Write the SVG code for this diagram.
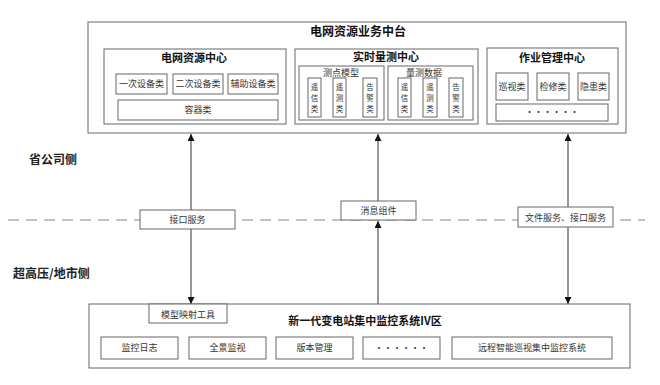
<svg xmlns="http://www.w3.org/2000/svg" width="660" height="385" viewBox="0 0 660 385">
<defs>
<marker id="ah" viewBox="0 0 10 10" refX="10" refY="5" markerWidth="7" markerHeight="7" markerUnits="userSpaceOnUse" orient="auto">
<path d="M0,0 L10,5 L0,10 z" fill="#111"/>
</marker>
<style>
.box{fill:#fff;stroke:#666;stroke-width:1}
.lbl{font-family:"Noto Sans CJK SC","Noto Sans",sans-serif;font-size:9px;fill:#333;text-anchor:middle}
.vl{font-family:"Noto Sans CJK SC","Noto Sans",sans-serif;font-size:7.5px;fill:#333;text-anchor:middle}
.ttl{font-family:"Noto Sans CJK SC","Noto Sans",sans-serif;font-weight:bold;fill:#111;text-anchor:middle}
.side{font-family:"Noto Sans CJK SC","Noto Sans",sans-serif;font-weight:bold;font-size:12px;fill:#222}
.ln{stroke:#333;stroke-width:1;fill:none}
</style>
</defs>
<rect width="660" height="385" fill="#fff"/>

<line x1="8" y1="220" x2="645" y2="220" stroke="#888" stroke-width="1.2" stroke-dasharray="11,7"/>

<g id="top-platform">
<rect class="box" x="88" y="22" width="538" height="111"/>
<text class="ttl" x="358" y="36" font-size="12">电网资源业务中台</text>
</g>

<g id="grid-resource-center">
<rect class="box" x="104" y="49" width="182" height="75"/>
<text class="ttl" x="194" y="62" font-size="11">电网资源中心</text>
<rect class="box" x="116" y="74" width="51" height="20"/>
<text class="lbl" x="141.5" y="87">一次设备类</text>
<rect class="box" x="173" y="74" width="50" height="20"/>
<text class="lbl" x="198" y="87">二次设备类</text>
<rect class="box" x="228" y="74" width="50" height="20"/>
<text class="lbl" x="253" y="87">辅助设备类</text>
<rect class="box" x="118" y="100" width="160" height="20"/>
<text class="lbl" x="198" y="113">容器类</text>
</g>

<g id="realtime-center">
<rect class="box" x="295" y="49" width="183" height="75"/>
<text class="ttl" x="386" y="61" font-size="11">实时量测中心</text>
<rect class="box" x="299" y="66" width="85" height="54"/>
<text class="lbl" x="341" y="75.5">测点模型</text>
<rect class="box" x="308" y="78" width="13" height="39"/>
<text class="vl" x="314.5" y="89.5">遥</text><text class="vl" x="314.5" y="100.5">信</text><text class="vl" x="314.5" y="111.5">类</text>
<rect class="box" x="333" y="78" width="13" height="39"/>
<text class="vl" x="339.5" y="89.5">遥</text><text class="vl" x="339.5" y="100.5">测</text><text class="vl" x="339.5" y="111.5">类</text>
<rect class="box" x="363" y="78" width="14" height="39"/>
<text class="vl" x="370" y="89.5">告</text><text class="vl" x="370" y="100.5">警</text><text class="vl" x="370" y="111.5">类</text>
<rect class="box" x="388" y="66" width="85" height="54"/>
<text class="lbl" x="424" y="75.5">量测数据</text>
<rect class="box" x="398" y="78" width="13" height="39"/>
<text class="vl" x="404.5" y="89.5">遥</text><text class="vl" x="404.5" y="100.5">信</text><text class="vl" x="404.5" y="111.5">类</text>
<rect class="box" x="423" y="78" width="14" height="39"/>
<text class="vl" x="430" y="89.5">遥</text><text class="vl" x="430" y="100.5">测</text><text class="vl" x="430" y="111.5">类</text>
<rect class="box" x="449" y="78" width="14" height="39"/>
<text class="vl" x="456" y="89.5">告</text><text class="vl" x="456" y="100.5">警</text><text class="vl" x="456" y="111.5">类</text>
</g>

<g id="operation-center">
<rect class="box" x="487" y="48" width="131" height="76"/>
<text class="ttl" x="552" y="62" font-size="11">作业管理中心</text>
<rect class="box" x="496" y="73" width="32" height="27"/>
<text class="lbl" x="512" y="90">巡视类</text>
<rect class="box" x="537" y="73" width="32" height="27"/>
<text class="lbl" x="553" y="90">检修类</text>
<rect class="box" x="578" y="73" width="31" height="27"/>
<text class="lbl" x="593.5" y="90">隐患类</text>
<rect class="box" x="496" y="104" width="112" height="17"/>
<text class="lbl" x="552" y="115">······</text>
</g>

<g id="side-labels">
<text class="side" x="29" y="164">省公司侧</text>
<text class="side" x="13" y="278">超高压/地市侧</text>
</g>

<g id="connectors">
<line class="ln" x1="191" y1="210" x2="191" y2="134" marker-end="url(#ah)"/>
<line class="ln" x1="191" y1="229" x2="191" y2="304" marker-end="url(#ah)"/>
<line class="ln" x1="378" y1="201" x2="378" y2="134" marker-end="url(#ah)"/>
<line class="ln" x1="378" y1="304" x2="378" y2="221" marker-end="url(#ah)"/>
<line class="ln" x1="568" y1="207" x2="568" y2="134" marker-end="url(#ah)"/>
<line class="ln" x1="568" y1="227" x2="568" y2="304" marker-end="url(#ah)"/>
</g>

<g id="interface-service">
<rect class="box" x="140" y="210" width="95" height="19"/>
<text class="lbl" x="187.5" y="223">接口服务</text>
</g>
<g id="message-component">
<rect class="box" x="341" y="201" width="75" height="19"/>
<text class="lbl" x="378.5" y="214">消息组件</text>
</g>
<g id="file-interface-service">
<rect class="box" x="518" y="207" width="95" height="20"/>
<text class="lbl" x="565.5" y="221">文件服务、接口服务</text>
</g>

<g id="bottom-system">
<rect class="box" x="89" y="304" width="541" height="64"/>
<text class="ttl" x="365" y="325" font-size="11">新一代变电站集中监控系统IV区</text>
<rect class="box" x="101" y="337" width="77" height="22"/>
<text class="lbl" x="139.5" y="351">监控日志</text>
<rect class="box" x="189" y="337" width="77" height="22"/>
<text class="lbl" x="227.5" y="351">全景监视</text>
<rect class="box" x="276" y="337" width="77" height="22"/>
<text class="lbl" x="314.5" y="351">版本管理</text>
<rect class="box" x="363" y="337" width="77" height="22"/>
<text class="lbl" x="401.5" y="351">······</text>
<rect class="box" x="452" y="337" width="160" height="22"/>
<text class="lbl" x="532" y="351">远程智能巡视集中监控系统</text>
</g>

<g id="model-mapping-tool">
<rect class="box" x="149" y="304" width="78" height="19"/>
<text class="lbl" x="188" y="318" font-size="10">模型映射工具</text>
</g>
</svg>
